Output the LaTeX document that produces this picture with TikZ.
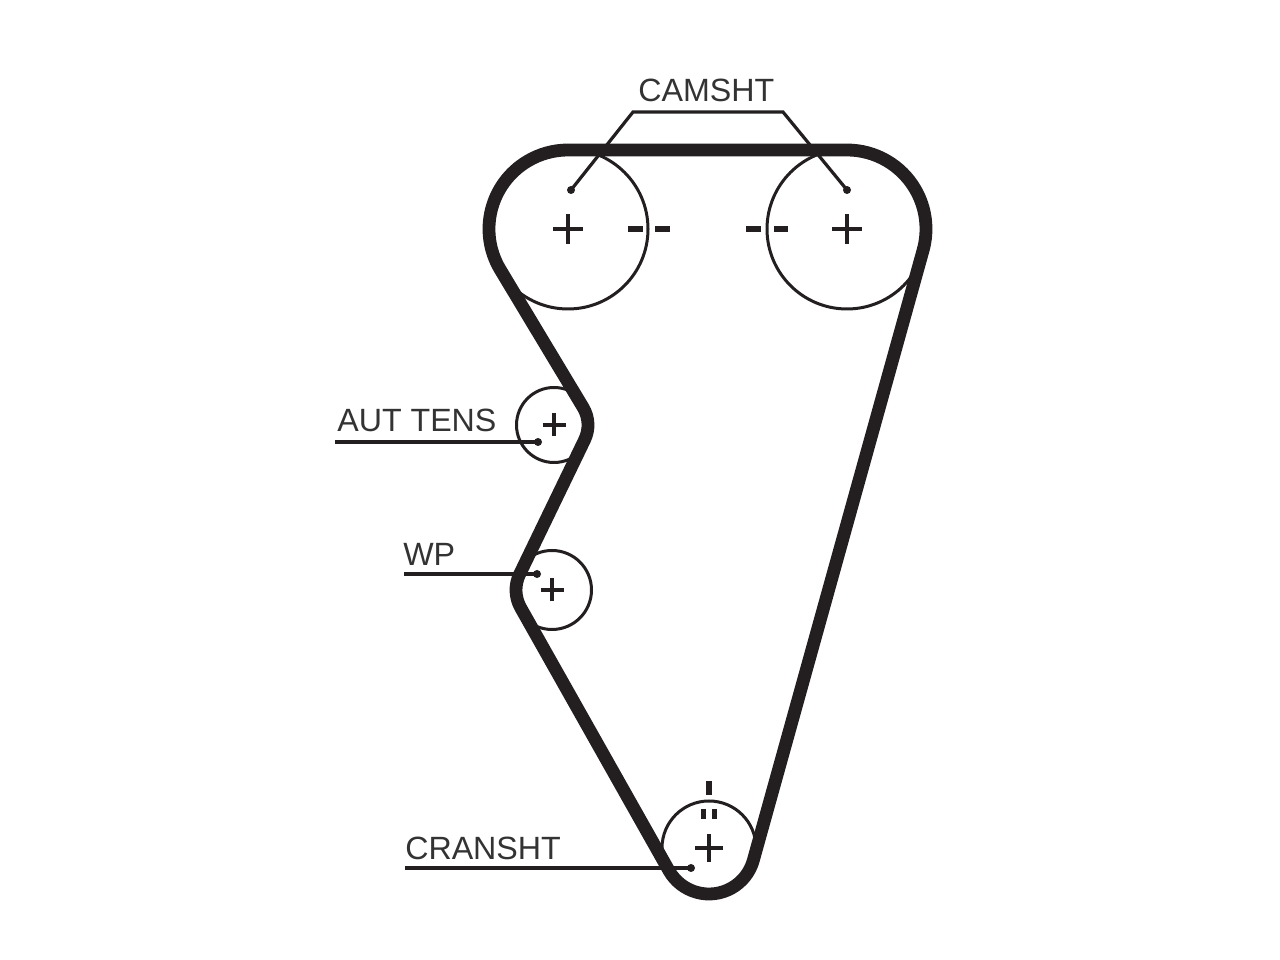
\documentclass[tikz,border=0pt]{standalone}
\usepackage{fontspec}
\setmainfont{Liberation Sans}
\usetikzlibrary{calc}
\definecolor{inkdark}{HTML}{231F20}
\definecolor{labelgrey}{HTML}{333333}
\tikzset{
    pulley/.style={circle, draw=inkdark, line width=0.75mm, inner sep=0pt, minimum size=#1*0.25mm},
    belt/.style={draw=inkdark, line width=3.2mm, line join=round},
    leader/.style={draw=inkdark, line width=0.8mm},
    leaddot/.style={circle, fill=inkdark, inner sep=0pt, minimum size=2mm},
    plusline/.style={draw=inkdark, line width=0.8mm},
    timing/.style={draw=inkdark, line width=1.4mm},
    partname/.style={anchor=base west, inner sep=0pt, text=labelgrey, font=\fontsize{22.9pt}{24pt}\selectfont}
}
\begin{document}
\begin{tikzpicture}[x=0.25mm, y=0.25mm]
    \useasboundingbox (0,0) rectangle (1280,960);

    \node[pulley=160] (camL) at (568, 731) {};
    \node[pulley=160] (camR) at (847, 731) {};
    \node[pulley=75] (tens) at (554, 535) {};
    \node[pulley=79] (wpump) at (552, 370) {};
    \node[pulley=94] (crank) at (709, 112) {};

    \draw[belt] ($(camL)+(90:79)$) -- ($(camR)+(90:79)$)
        arc[start angle=90, end angle=-15.6, radius=79]
        -- ($(crank)+(-15.6:46)$)
        arc[start angle=-15.6, end angle=-150.4, radius=46]
        -- ($(wpump)+(209.6:36)$)
        arc[start angle=209.6, end angle=154.2, radius=36]
        -- ($(tens)+(-25.8:34)$)
        arc[start angle=-25.8, end angle=30.8, radius=34]
        -- ($(camL)+(210.8:79)$)
        arc[start angle=210.8, end angle=90, radius=79] -- cycle;

    \foreach \hub/\size in {camL/15, camR/15, tens/11.5, wpump/11.5, crank/14} {
        \draw[plusline] ($(\hub)+(-\size,0)$) -- ($(\hub)+(\size,0)$);
        \draw[plusline] ($(\hub)+(0,-\size)$) -- ($(\hub)+(0,\size)$);
    }

    % timing marks
    \draw[timing] (628, 731) -- (643, 731);
    \draw[timing] (655, 731) -- (670, 731);
    \draw[timing] (746, 731) -- (761, 731);
    \draw[timing] (774, 731) -- (788, 731);
    \draw[timing] (709, 179) -- (709, 165);
    \draw[timing] (703.5, 151) -- (703.5, 141);
    \draw[timing] (714.5, 151) -- (714.5, 141);

    \node[leaddot] (camLdot) at (571, 770) {};
    \node[leaddot] (camRdot) at (847, 770) {};
    \node[leaddot] (tensdot) at (538, 518) {};
    \node[leaddot] (wpumpdot) at (537, 386) {};
    \node[leaddot] (crankdot) at (691, 92) {};

    \coordinate (camLbend) at (633, 848);
    \coordinate (camRbend) at (783, 848);
    \coordinate (tensend) at (335, 518);
    \coordinate (wpumpend) at (404, 386);
    \coordinate (crankend) at (405, 92);

    \draw[leader] (camLdot.center) -- (camLbend) -- (camRbend) -- (camRdot.center);
    \draw[leader] (tensend) -- (tensdot.center);
    \draw[leader] (wpumpend) -- (wpumpdot.center);
    \draw[leader] (crankend) -- (crankdot.center);

    \node[partname] (camname) at (638, 858) {CAMSHT};
    \node[partname] (tensname) at (337, 528) {AUT TENS};
    \node[partname] (wpumpname) at (403, 394) {WP};
    \node[partname] (crankname) at (405, 100) {CRANSHT};
\end{tikzpicture}
\end{document}
